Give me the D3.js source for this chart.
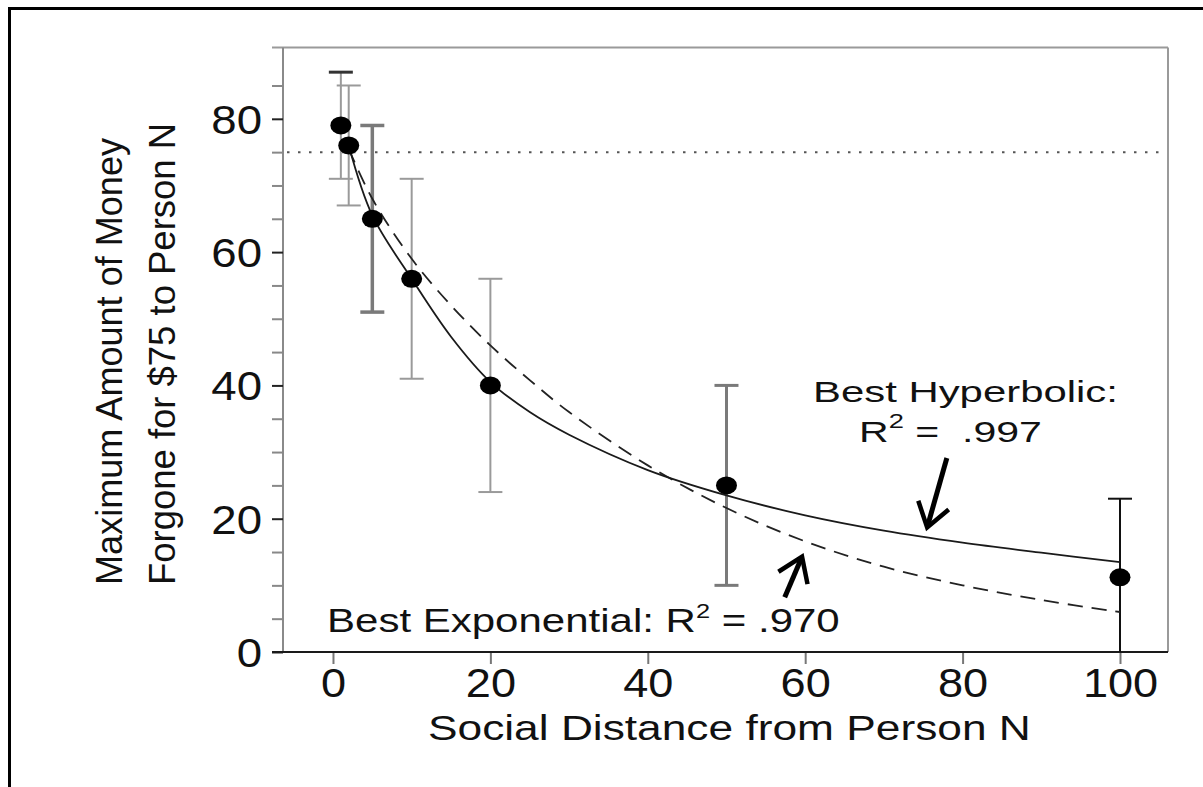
<!DOCTYPE html>
<html>
<head>
<meta charset="utf-8">
<script src="https://cdn.jsdelivr.net/npm/d3@7"></script>
<style>
  html, body { margin: 0; padding: 0; background: #fff; }
  svg { display: block; font-family: "Liberation Sans", Arial, Helvetica, sans-serif; }
  text { white-space: pre; }
</style>
</head>
<body>
<svg id="chart" width="1203" height="787"></svg>
<script>
// ---------- data ----------
const distances   = [1, 2, 5, 10, 20, 50, 100];
const meanAmounts = [79, 76, 65, 56, 40, 25, 11.2];
const errUpper    = [87, 85, 79, 71, 56, 40, 23];
const errLower    = [71, 67, 51, 41, 24, 10, 0];

const hypN = [2, 5, 10, 15, 20, 25, 30, 40, 50, 60, 70, 80, 90, 100];
const hypV = [76, 65.5, 56, 47.3, 40.5, 36, 32.6, 27.3, 23.5, 20.5, 18.2, 16.4, 14.9, 13.5];
const expN = [2, 5, 10, 15, 20, 25, 30, 40, 50, 60, 70, 80, 90, 100];
const expV = [75.5, 68, 59, 52, 46, 40.8, 36, 28, 21.6, 16.6, 12.8, 10, 7.8, 6];

const indifferenceAmount = 75;
const xTickValues = [0, 20, 40, 60, 80, 100];
const yMajorTicks = [0, 20, 40, 60, 80];
const yAllTicks   = [0, 5, 10, 15, 20, 25, 30, 35, 40, 45, 50, 55, 60, 65, 70, 75, 80, 85];

const xTitle = "Social Distance from Person N";
const yTitle1 = "Maximum Amount of Money";
const yTitle2 = "Forgone for $75 to Person N";

// ---------- layout ----------
const svg = d3.select("#chart");
const pLeft = 283, pRight = 1168, pTop = 47.5, pBottom = 652;
const x = d3.scaleLinear().domain([-6.35, 106.1]).range([pLeft, pRight]);
const y = d3.scaleLinear().domain([0, 90.7]).range([pBottom, pTop]);

// outer frame
svg.append("line").attr("x1", 8).attr("x2", 1203).attr("y1", 8.5).attr("y2", 8.5)
  .attr("stroke", "#000").attr("stroke-width", 3);
svg.append("line").attr("x1", 9.5).attr("x2", 9.5).attr("y1", 7).attr("y2", 787)
  .attr("stroke", "#000").attr("stroke-width", 3);

// plot box
const box = svg.append("g");
box.append("line").attr("x1", pLeft - 11).attr("x2", pRight).attr("y1", pTop).attr("y2", pTop)
  .attr("stroke", "#9a9a9a").attr("stroke-width", 2);
box.append("line").attr("x1", pRight).attr("x2", pRight).attr("y1", pTop).attr("y2", pBottom)
  .attr("stroke", "#9a9a9a").attr("stroke-width", 2);
box.append("line").attr("x1", pLeft).attr("x2", pLeft).attr("y1", pTop).attr("y2", pBottom)
  .attr("stroke", "#8a8a8a").attr("stroke-width", 2);

// y axis
const yAxis = svg.append("g").attr("transform", `translate(${pLeft},0)`)
  .call(d3.axisLeft(y).tickValues(yAllTicks).tickSize(11).tickSizeOuter(0)
    .tickFormat(d => yMajorTicks.includes(d) ? String(d) : ""));
yAxis.select(".domain").remove();
yAxis.selectAll(".tick line")
  .attr("stroke", d => yMajorTicks.includes(d) ? "#222" : "#888")
  .attr("stroke-width", 2);
yAxis.selectAll(".tick text")
  .attr("font-family", "Liberation Sans, Arial, sans-serif")
  .attr("font-size", 40).attr("fill", "#111")
  .attr("dy", null).attr("y", 14.5)
  .attr("x", -21 / 1.14)
  .attr("transform", "scale(1.14,1)");

// x axis
const xAxis = svg.append("g").attr("transform", `translate(0,${pBottom})`)
  .call(d3.axisBottom(x).tickValues(xTickValues).tickSize(12).tickSizeOuter(0));
xAxis.select(".domain").remove();
xAxis.selectAll(".tick line").attr("stroke", "#777").attr("stroke-width", 2);
xAxis.selectAll(".tick text")
  .attr("font-family", "Liberation Sans, Arial, sans-serif")
  .attr("font-size", 41).attr("fill", "#111")
  .attr("dy", null).attr("y", 45)
  .attr("transform", "scale(1.1,1)");

// bottom axis line (black)
svg.append("line").attr("x1", pLeft - 11).attr("x2", pRight).attr("y1", pBottom).attr("y2", pBottom)
  .attr("stroke", "#1a1a1a").attr("stroke-width", 2.2);

// dotted reference line at $75
svg.append("line")
  .attr("x1", x.range()[0] + 4).attr("x2", x.range()[1] - 4)
  .attr("y1", y(indifferenceAmount)).attr("y2", y(indifferenceAmount))
  .attr("stroke", "#555").attr("stroke-width", 2).attr("stroke-dasharray", "2.5,8.5");

// error bars
const points = distances.map((d, i) => ({ n: d, v: meanAmounts[i], hi: errUpper[i], lo: errLower[i] }));
function barStroke(n) { return n === 100 ? "#111" : (n === 5 || n === 50) ? "#7a7a7a" : "#9a9a9a"; }
function barWidth(n) { return n === 5 ? 3.5 : n === 50 ? 3 : 2; }
const capHalf = 12;
const eb = svg.append("g");
points.forEach(p => {
  const g = eb.append("g").attr("stroke", barStroke(p.n)).attr("stroke-width", barWidth(p.n));
  g.append("line").attr("x1", x(p.n)).attr("x2", x(p.n)).attr("y1", y(p.hi)).attr("y2", y(p.lo));
  g.append("line").attr("x1", x(p.n) - capHalf).attr("x2", x(p.n) + capHalf).attr("y1", y(p.hi)).attr("y2", y(p.hi))
    .attr("stroke", p.n === 1 ? "#333" : null)
    .attr("stroke-width", p.n === 1 ? 3 : barWidth(p.n));
  if (p.lo > 0) {
    g.append("line").attr("x1", x(p.n) - capHalf).attr("x2", x(p.n) + capHalf).attr("y1", y(p.lo)).attr("y2", y(p.lo));
  }
});

// fitted curves
const curveLine = d3.line().x(d => x(d[0])).y(d => y(d[1])).curve(d3.curveCatmullRom.alpha(0.5));
svg.append("path").datum(expN.map((n, i) => [n, expV[i]]))
  .attr("d", curveLine).attr("fill", "none").attr("stroke", "#222").attr("stroke-width", 1.8)
  .attr("stroke-dasharray", "15,9");
svg.append("path").datum(hypN.map((n, i) => [n, hypV[i]]))
  .attr("d", curveLine).attr("fill", "none").attr("stroke", "#1a1a1a").attr("stroke-width", 1.8);

// points
svg.append("g").selectAll("ellipse").data(points).join("ellipse")
  .attr("cx", d => x(d.n)).attr("cy", d => y(d.v))
  .attr("rx", 10.5).attr("ry", 9).attr("fill", "#000");

// ---------- texts ----------
function stretchedText(parent, px, py, width, size, build) {
  const g = parent.append("g");
  const t = g.append("text").attr("font-size", size).attr("fill", "#111");
  build(t);
  const bb = t.node().getBBox();
  const s = width / bb.width;
  g.attr("transform", `translate(${px - bb.x * s},${py}) scale(${s},1)`);
  return g;
}

// Best Hyperbolic
stretchedText(svg, 813, 402, 305, 30, t => t.text("Best Hyperbolic:"));
stretchedText(svg, 859, 442, 183, 30, t => {
  t.append("tspan").text("R");
  t.append("tspan").attr("font-size", 20).attr("dy", -14).text("2");
  t.append("tspan").attr("dy", 14).text(" =\u00A0\u00A0.997");
});

// Best Exponential
stretchedText(svg, 327, 632, 513, 33, t => {
  t.append("tspan").text("Best Exponential: R");
  t.append("tspan").attr("font-size", 20).attr("dy", -14).text("2");
  t.append("tspan").attr("dy", 14).text(" = .970");
});

// axis titles
stretchedText(svg, 428, 740, 603, 36, t => t.text(xTitle));

svg.append("text").attr("font-size", 36).attr("fill", "#111")
  .attr("transform", `translate(122,585) rotate(-90)`)
  .attr("textLength", 447).attr("lengthAdjust", "spacingAndGlyphs")
  .text(yTitle1);
svg.append("text").attr("font-size", 36).attr("fill", "#111")
  .attr("transform", `translate(175,585) rotate(-90)`)
  .attr("textLength", 462).attr("lengthAdjust", "spacingAndGlyphs")
  .text(yTitle2);

// ---------- arrows (anchored in data units) ----------
const arrows = [
  { tail: [78.0, 29.1], tip: [75.5, 18.7] },
  { tail: [57.4, 8.2],  tip: [59.6, 14.3] }
];
arrows.forEach(a => {
  const tx = x(a.tail[0]), ty = y(a.tail[1]);
  const hx = x(a.tip[0]), hy = y(a.tip[1]);
  const ang = Math.atan2(hy - ty, hx - tx);
  const L = 28, spread = 0.6;
  const w1 = [hx - L * Math.cos(ang - spread), hy - L * Math.sin(ang - spread)];
  const w2 = [hx - L * Math.cos(ang + spread), hy - L * Math.sin(ang + spread)];
  svg.append("line").attr("x1", tx).attr("y1", ty).attr("x2", hx - 2 * Math.cos(ang)).attr("y2", hy - 2 * Math.sin(ang))
    .attr("stroke", "#000").attr("stroke-width", 5);
  svg.append("path").attr("d", `M${w1[0]},${w1[1]}L${hx},${hy}L${w2[0]},${w2[1]}`)
    .attr("fill", "none").attr("stroke", "#000").attr("stroke-width", 4.5)
    .attr("stroke-linejoin", "miter").attr("stroke-linecap", "butt");
});
</script>
</body>
</html>
